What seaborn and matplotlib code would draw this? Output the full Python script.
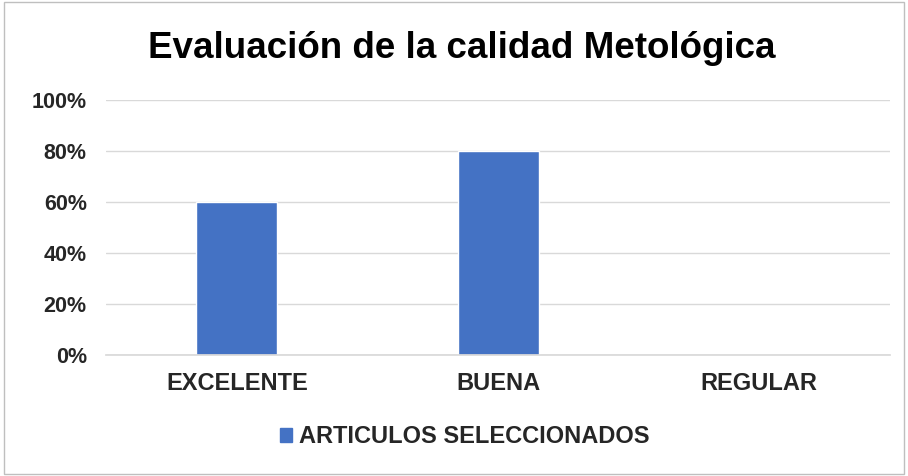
import matplotlib
matplotlib.use("Agg")
import matplotlib.pyplot as plt
import seaborn as sns
import pandas as pd
from matplotlib.patches import Rectangle
from matplotlib.ticker import PercentFormatter

categories = ["EXCELENTE", "BUENA", "REGULAR"]
values = [0.60, 0.80, 0.0]
series_name = "ARTICULOS SELECCIONADOS"
title = "Evaluación de la calidad Metológica"

sns.set_theme(style="white")
plt.rcParams['font.family'] = ['Liberation Sans', 'DejaVu Sans']

df = pd.DataFrame({"cat": categories, "val": values, "serie": series_name})

fig = plt.figure(figsize=(9.08, 4.76), dpi=100)
ax = fig.add_axes([0.117, 0.254, 0.863, 0.536])
sns.barplot(data=df, x="cat", y="val", hue="serie", palette=["#4472C4"],
            saturation=1, width=0.31, ax=ax, legend=False)

ax.set_ylim(0, 1.0)
ax.set_yticks([0, 0.2, 0.4, 0.6, 0.8, 1.0])
ax.yaxis.set_major_formatter(PercentFormatter(1.0, decimals=0))
ax.grid(axis="y", color="#d9d9d9", linewidth=1)
ax.set_axisbelow(True)
for s in ["top", "right", "left"]:
    ax.spines[s].set_visible(False)
ax.spines["bottom"].set_color("#d9d9d9")
ax.tick_params(axis="x", length=0, labelsize=17, pad=12)
ax.tick_params(axis="y", length=0, labelsize=15.5, pad=14)
for lab in ax.get_xticklabels() + ax.get_yticklabels():
    lab.set_fontweight("bold")
    lab.set_color("#262626")
ax.set_xlabel("")
ax.set_ylabel("")

fig.text(0.509, 0.899, title, ha="center", va="center", fontsize=26.5, fontweight="bold", color="black")

handle = Rectangle((0, 0), 1, 1, color="#4472C4")
fig.legend([handle], [series_name], loc="center", bbox_to_anchor=(0.512, 0.082), frameon=False,
           prop={"weight": "bold", "size": 17}, handlelength=0.5, handleheight=0.5, handletextpad=0.3)

border = Rectangle((0.004, 0.004), 0.992, 0.992, transform=fig.transFigure, fill=False,
                   edgecolor="#bfbfbf", linewidth=1)
fig.patches.append(border)

fig.savefig("out.png", dpi=100)
